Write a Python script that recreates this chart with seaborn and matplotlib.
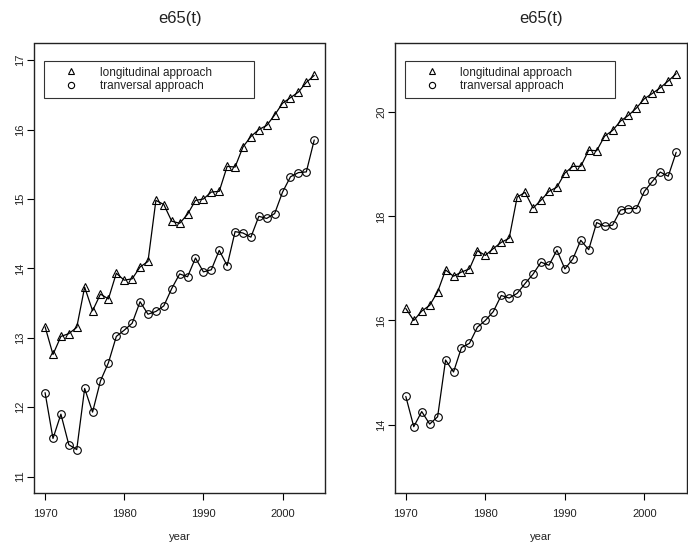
import matplotlib
matplotlib.use("Agg")
import matplotlib.pyplot as plt
from matplotlib.lines import Line2D
import seaborn as sns
import pandas as pd
import numpy as np

years = list(range(1970, 2005))

left_longitudinal = [13.16, 12.76, 13.02, 13.06, 13.15, 13.73, 13.39, 13.63, 13.56, 13.93,
                     13.83, 13.85, 14.02, 14.10, 14.98, 14.92, 14.68, 14.65, 14.78, 14.98,
                     15.00, 15.10, 15.11, 15.47, 15.46, 15.75, 15.90, 16.00, 16.06, 16.21,
                     16.38, 16.46, 16.54, 16.68, 16.78]
left_tranversal = [12.21, 11.55, 11.90, 11.46, 11.39, 12.27, 11.93, 12.38, 12.64, 13.02,
                   13.11, 13.21, 13.52, 13.34, 13.38, 13.46, 13.71, 13.92, 13.88, 14.15,
                   13.95, 13.98, 14.26, 14.04, 14.53, 14.51, 14.45, 14.75, 14.72, 14.79,
                   15.10, 15.32, 15.38, 15.39, 15.85]
right_longitudinal = [16.23, 16.00, 16.18, 16.29, 16.55, 16.97, 16.85, 16.93, 16.99, 17.34,
                      17.25, 17.38, 17.50, 17.58, 18.37, 18.46, 18.16, 18.31, 18.48, 18.56,
                      18.83, 18.96, 18.96, 19.27, 19.26, 19.54, 19.65, 19.83, 19.94, 20.08,
                      20.26, 20.36, 20.47, 20.60, 20.74]
right_tranversal = [14.54, 13.96, 14.25, 14.01, 14.15, 15.24, 15.01, 15.48, 15.56, 15.87,
                    16.00, 16.17, 16.48, 16.43, 16.52, 16.71, 16.89, 17.12, 17.06, 17.35,
                    16.99, 17.18, 17.54, 17.36, 17.88, 17.81, 17.83, 18.12, 18.15, 18.15,
                    18.48, 18.67, 18.85, 18.77, 19.23]

series_labels = ["longitudinal approach", "tranversal approach"]
panel_title = "e65(t)"
x_label = "year"
x_ticks = [1970, 1980, 1990, 2000]
left_yticks = [11, 12, 13, 14, 15, 16, 17]
right_yticks = [14, 16, 18, 20]

sns.set_style("ticks")
plt.rcParams["font.family"] = ["Liberation Sans", "DejaVu Sans"]

fig = plt.figure(figsize=(6.88, 5.47), dpi=100)
W, H = 688, 547

def add_ax(x0, x1, y0, y1):
    return fig.add_axes([x0 / W, 1 - y1 / H, (x1 - x0) / W, (y1 - y0) / H])

ax1 = add_ax(34.3, 325.0, 43.5, 493.3)
ax2 = add_ax(395.0, 687.0, 43.5, 493.3)

panels = [
    (ax1, left_longitudinal, left_tranversal, (11, 17), left_yticks),
    (ax2, right_longitudinal, right_tranversal, (13, 21), right_yticks),
]

TXT = "#222222"
for ax, lon, tra, ylim, yticks in panels:
    df = pd.DataFrame({
        "year": years * 2,
        "value": lon + tra,
        "approach": [series_labels[0]] * len(years) + [series_labels[1]] * len(years),
    })
    sns.lineplot(data=df, x="year", y="value", style="approach",
                 markers={series_labels[0]: "^", series_labels[1]: "o"},
                 dashes=False, color="black", linewidth=0.9,
                 markersize=5.5, markerfacecolor="none", markeredgecolor="black",
                 markeredgewidth=0.8, legend=False, ax=ax)
    span = ylim[1] - ylim[0]
    ax.set_ylim(ylim[0] - 0.04 * span, ylim[1] + 0.04 * span)
    ax.set_xlim(1970 - 0.04 * 34, 2004 + 0.04 * 34)
    ax.set_xticks(x_ticks)
    ax.set_yticks(yticks)
    ax.set_xticklabels([str(t) for t in x_ticks])
    ax.set_yticklabels([str(t) for t in yticks], rotation=90, va="center")
    ax.tick_params(axis="both", direction="out", length=5, width=0.8,
                   color="black", labelsize=8, labelcolor=TXT)
    ax.tick_params(axis="x", pad=6.5)
    ax.tick_params(axis="y", pad=1.5)
    for s in ax.spines.values():
        s.set_visible(True)
        s.set_color(TXT)
        s.set_linewidth(1.0)
    ax.set_ylabel("")
    ax.set_xlabel(x_label, fontsize=8, color=TXT)
    ax.xaxis.set_label_coords(0.5, -(536.7 - 493.3) / (493.3 - 43.5))
    ax.xaxis.label.set_va("center")
    ax.set_title(panel_title, fontsize=12, y=1 + (43.5 - 18.3) / (493.3 - 43.5),
                 va="center", color=TXT, pad=0)

    handles = [
        Line2D([], [], linestyle="none", marker="^", markersize=4.5,
               markerfacecolor="none", markeredgecolor="black", markeredgewidth=0.8),
        Line2D([], [], linestyle="none", marker="o", markersize=4.5,
               markerfacecolor="none", markeredgecolor="black", markeredgewidth=0.8),
    ]
    axw = ax.get_position().width * W
    axh = ax.get_position().height * H
    bx = 10.0 / axw
    by_top = 1 - (60.7 - 43.5) / axh
    bh = 37.0 / axh
    bw = 210.0 / axw
    leg = ax.legend(handles, series_labels, loc="upper left",
                    bbox_to_anchor=(bx, by_top - bh, bw, bh), mode="expand",
                    borderaxespad=0, fontsize=8.5, frameon=True, fancybox=False,
                    edgecolor="black", handlelength=3.6, handletextpad=0.58,
                    borderpad=0.5, labelspacing=0.13)
    leg.get_frame().set_linewidth(0.8)
    for t in leg.get_texts():
        t.set_color(TXT)

fig.savefig("out.png", dpi=100)
